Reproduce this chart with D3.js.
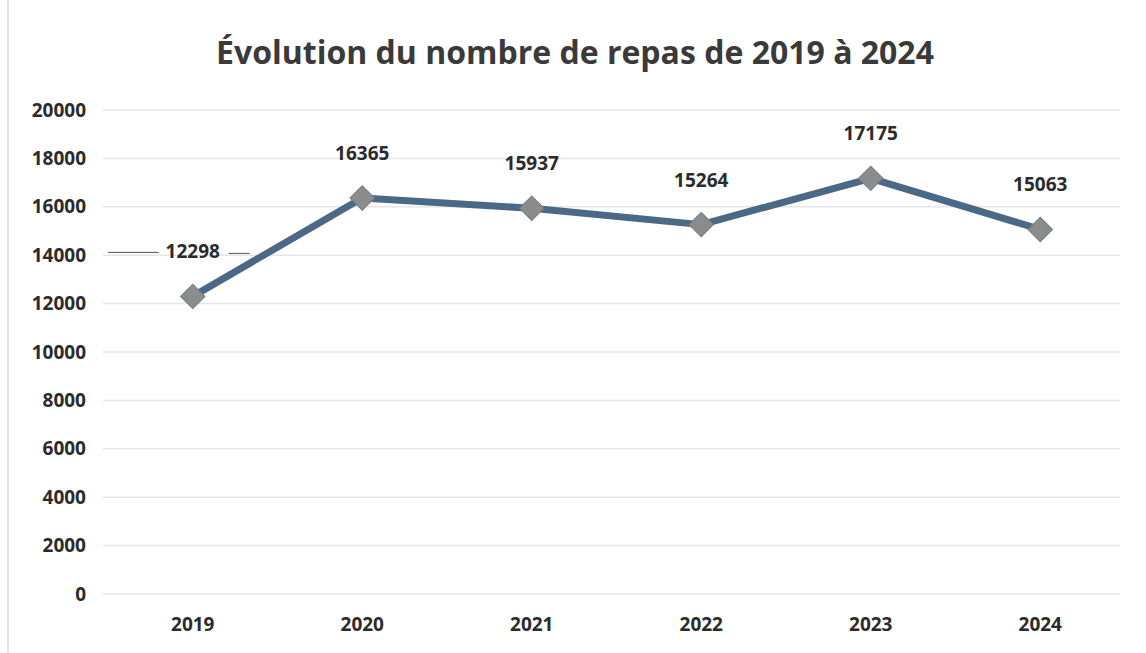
<!DOCTYPE html>
<html>
<head>
<meta charset="utf-8">
<script src="https://cdn.jsdelivr.net/npm/d3@7"></script>
<style>
  body { margin: 0; background: #fff; }
  svg { display: block; font-family: "Open Sans", "Liberation Sans", sans-serif; }
</style>
</head>
<body>
<svg id="canvas" width="1146" height="653"></svg>
<script>
let years = ['2019', '2020', '2021', '2022', '2023', '2024']
let repas = [12298, 16365, 15937, 15264, 17175, 15063]
let yTicks = [0, 2000, 4000, 6000, 8000, 10000, 12000, 14000, 16000, 18000, 20000]

let svg = d3.select('#canvas')

let plotLeft = 108, plotRight = 1125, plotTop = 110, plotBottom = 594
let gridLeft = 103, gridRight = 1120

// faint page border from the scan
svg.append('line')
    .attr('x1', 8).attr('x2', 8).attr('y1', 0).attr('y2', 653)
    .attr('stroke', '#e4e4e4').attr('stroke-width', 2)

let x = d3.scaleBand().domain(years).range([plotLeft, plotRight])
let y = d3.scaleLinear().domain([0, 20000]).range([plotBottom, plotTop])

svg.append('text')
    .attr('x', 575).attr('y', 64)
    .attr('text-anchor', 'middle')
    .attr('font-size', 32).attr('font-weight', 'bold')
    .attr('fill', '#3a3a3a')
    .text('Évolution du nombre de repas de 2019 à 2024')

// gridlines
svg.append('g')
    .selectAll('line')
    .data(yTicks)
    .enter()
    .append('line')
    .attr('x1', gridLeft).attr('x2', gridRight)
    .attr('y1', d => y(d)).attr('y2', d => y(d))
    .attr('stroke', '#e6e6e6').attr('stroke-width', 1.5)

let yAxis = d3.axisLeft(y).tickValues(yTicks).tickFormat(d3.format('d')).tickSize(0).tickPadding(17)
let gy = svg.append('g').attr('transform', 'translate(' + gridLeft + ',0)').call(yAxis)
gy.select('.domain').remove()
gy.selectAll('text')
    .attr('font-size', 19).attr('font-weight', 'bold').attr('fill', '#2b2b2b')
    .attr('font-family', '"Open Sans", sans-serif')

let xAxis = d3.axisBottom(x).tickSize(0).tickPadding(24)
let gx = svg.append('g').attr('transform', 'translate(0,' + plotBottom + ')').call(xAxis)
gx.select('.domain').remove()
gx.selectAll('text')
    .attr('font-size', 19).attr('font-weight', 'bold').attr('fill', '#2b2b2b')
    .attr('font-family', '"Open Sans", sans-serif')

let cx = d => x(d) + x.bandwidth() / 2

let line = d3.line()
    .x((d, i) => cx(years[i]))
    .y(d => y(d))

svg.append('path')
    .datum(repas)
    .attr('d', line)
    .attr('fill', 'none')
    .attr('stroke', '#4b6987')
    .attr('stroke-width', 7)
    .attr('stroke-linejoin', 'round')

svg.selectAll('.marker')
    .data(repas)
    .enter()
    .append('path')
    .attr('class', 'marker')
    .attr('d', d3.symbol().type(d3.symbolSquare).size(300))
    .attr('transform', (d, i) => 'translate(' + cx(years[i]) + ',' + y(d) + ') rotate(45)')
    .attr('fill', '#8a8c8e')
    .attr('stroke', '#7a7c7e')
    .attr('stroke-width', 1)

svg.selectAll('.label')
    .data(repas)
    .enter()
    .append('text')
    .attr('class', 'label')
    .attr('x', (d, i) => cx(years[i]))
    .attr('y', d => y(d) - 38)
    .attr('text-anchor', 'middle')
    .attr('font-size', 19).attr('font-weight', 'bold')
    .attr('fill', '#2b2b2b')
    .text(d => d)

// stray pen strokes beside the first label in the scan
let first = svg.selectAll('.label').filter((d, i) => i === 0)
let fx = cx(years[0]), fy = y(repas[0]) - 44
svg.append('line')
    .attr('x1', fx - 85).attr('x2', fx - 34).attr('y1', fy).attr('y2', fy)
    .attr('stroke', '#555').attr('stroke-width', 1)
svg.append('line')
    .attr('x1', fx + 36).attr('x2', fx + 57).attr('y1', fy + 1).attr('y2', fy + 1)
    .attr('stroke', '#555').attr('stroke-width', 1)
</script>
</body>
</html>
